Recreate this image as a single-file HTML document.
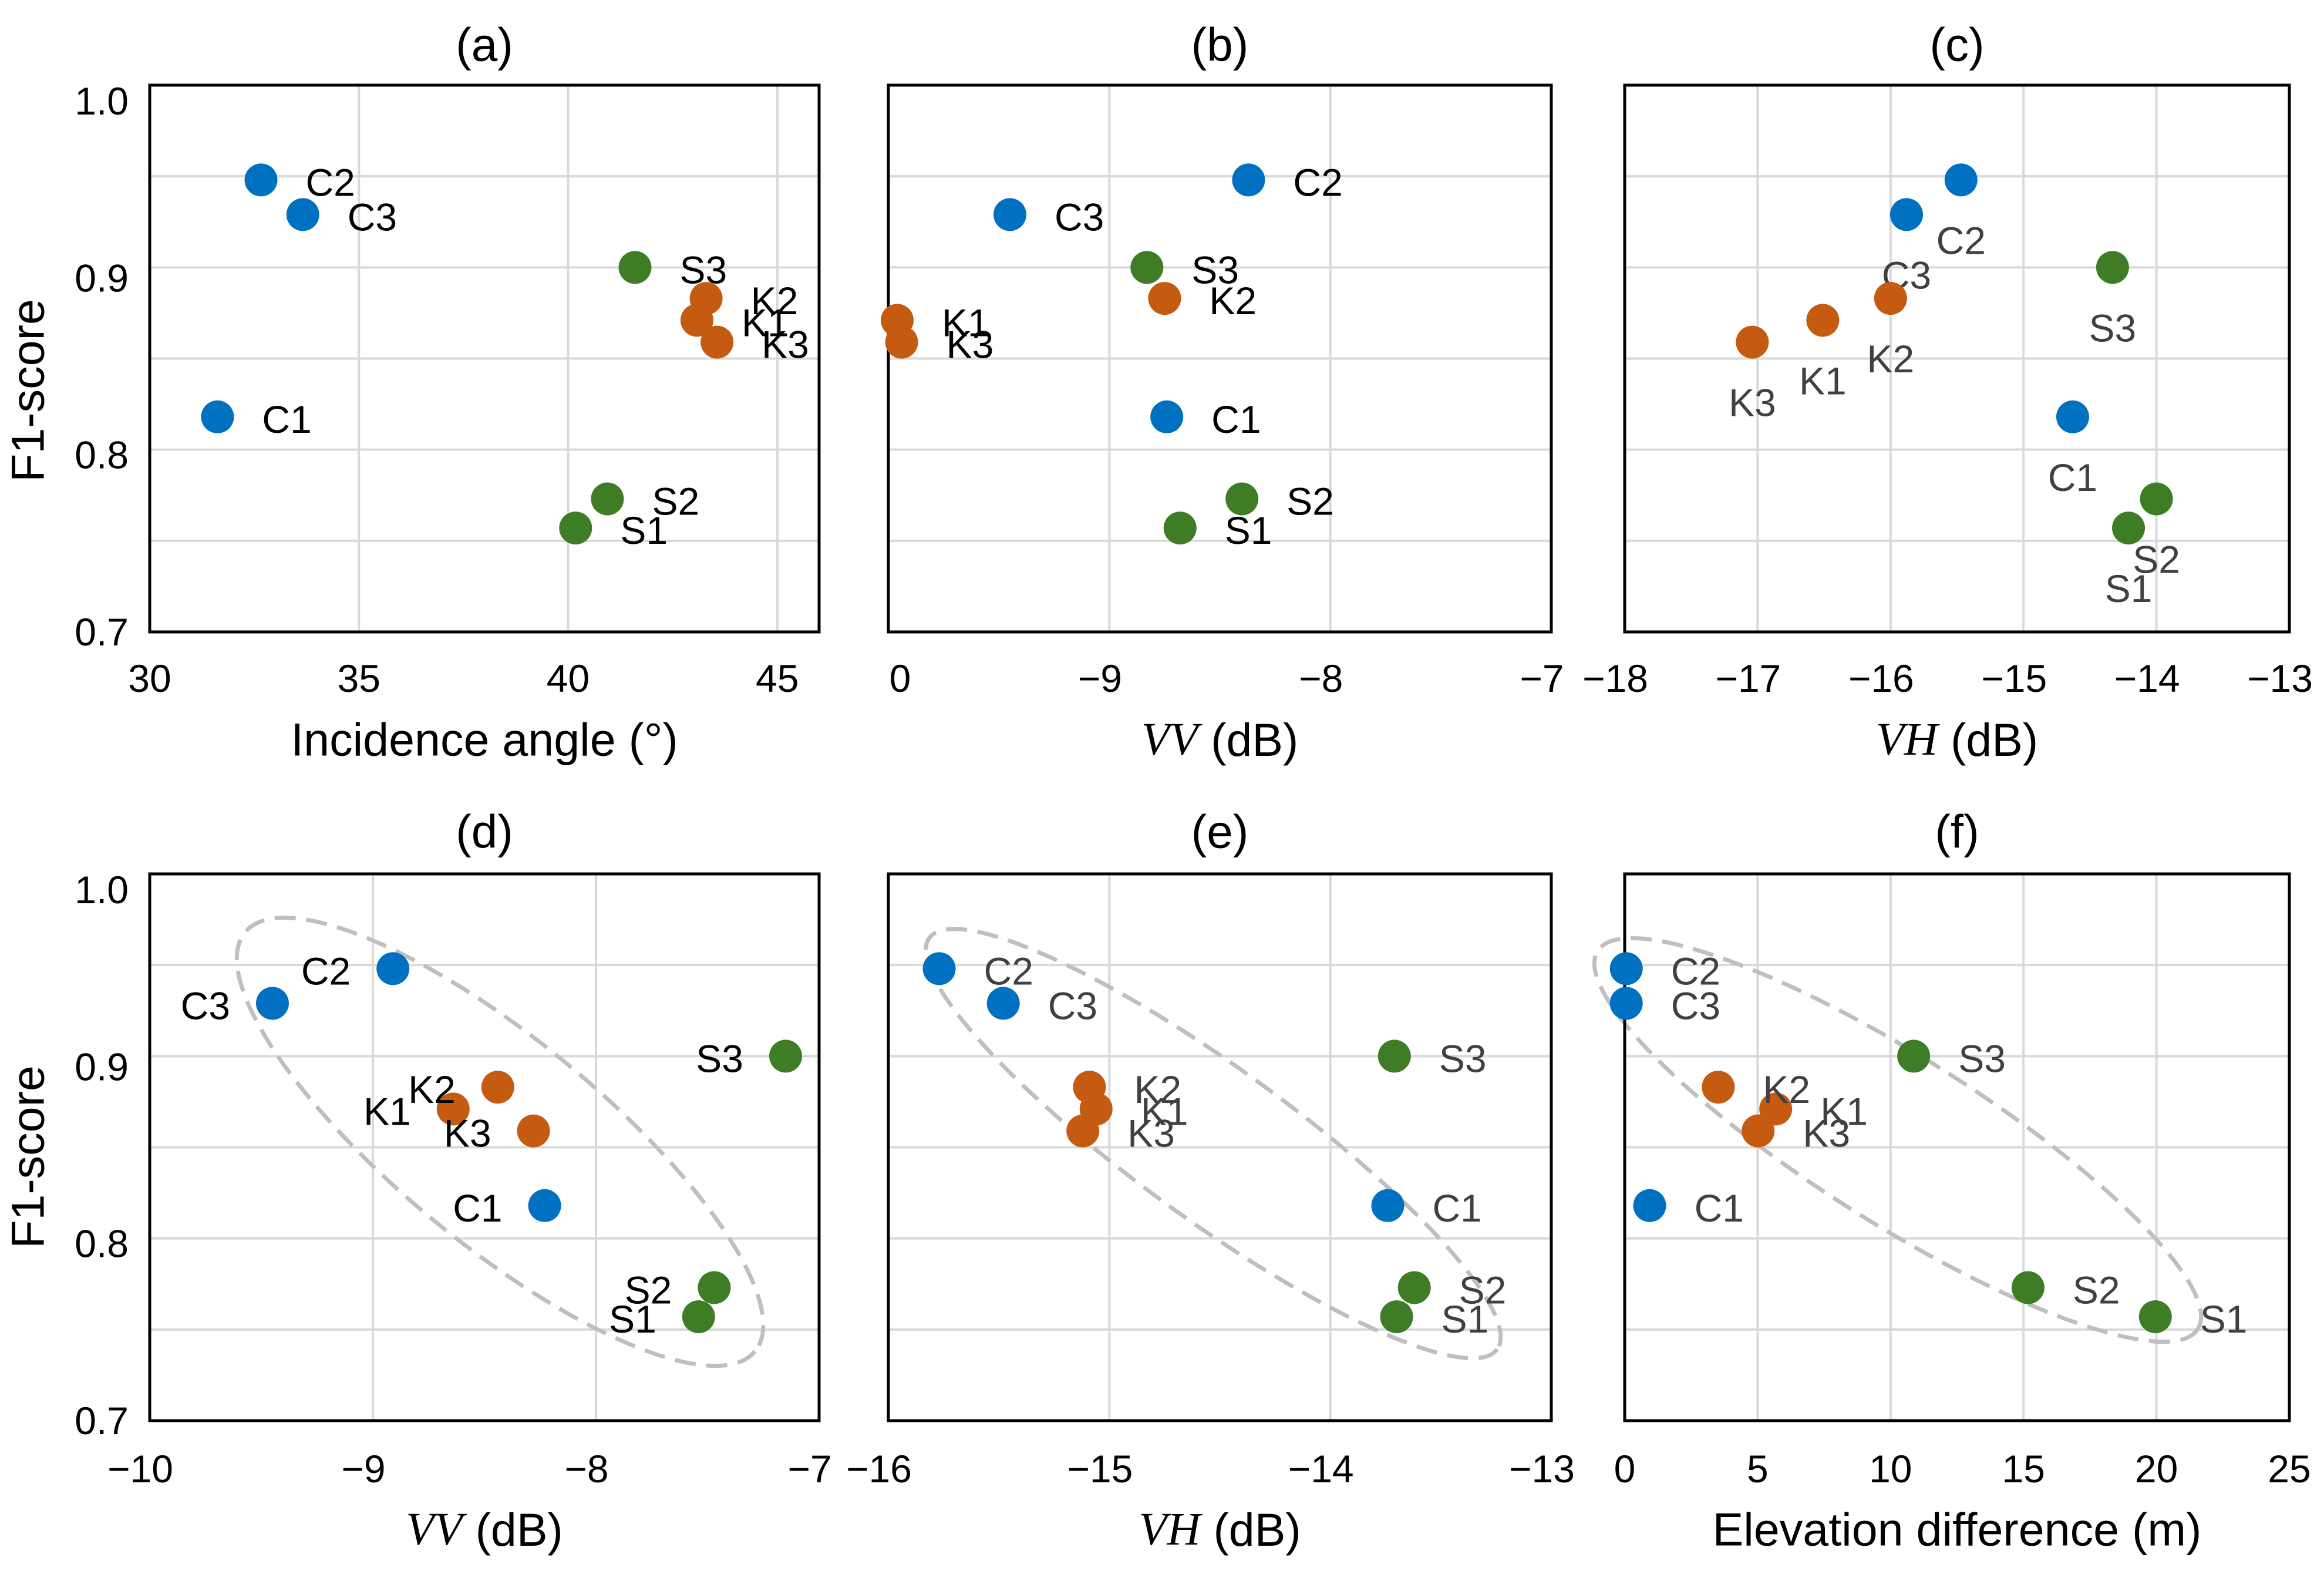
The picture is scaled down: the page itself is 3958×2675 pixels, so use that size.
<!DOCTYPE html>
<html><head><meta charset="utf-8">
<style>
html,body{margin:0;padding:0;background:#fff;}
svg{display:block;font-family:"Liberation Sans",Arial,sans-serif;}
</style></head>
<body>
<svg id="fig" xmlns="http://www.w3.org/2000/svg" width="3958" height="2675" viewBox="0 0 3958 2675"></svg>
<script>
const names = ['C1','C2','C3','K1','K2','K3','S1','S2','S3'];
const groups = ['C','C','C','K','K','K','S','S','S'];
const f1 = [0.818,0.948,0.929,0.871,0.883,0.859,0.757,0.773,0.900];
const incidence = [31.62,32.66,33.66,43.08,43.30,43.56,40.18,40.94,41.60];
const vvB = [-8.74,-8.37,-9.45,-9.96,-8.75,-9.94,-8.68,-8.40,-8.83];
const vhC = [-14.63,-15.47,-15.88,-16.51,-16.00,-17.04,-14.21,-14.00,-14.33];
const vvD = [-8.23,-8.91,-9.45,-8.64,-8.44,-8.28,-7.54,-7.47,-7.15];
const vhE = [-13.74,-15.77,-15.48,-15.06,-15.09,-15.12,-13.70,-13.62,-13.71];
const elev = [0.94,0.06,0.06,5.68,3.52,5.02,19.96,15.17,10.87];
const yTicks = [1.0,0.9,0.8,0.7];
const yTickText = ['1.0','0.9','0.8','0.7'];
const yGrid = [0.75,0.8,0.85,0.9,0.95];
const ticksA = [30,35,40,45];
const tickTextA = ['30','35','40','45'];
const ticksB = [-10,-9,-8,-7];
const tickTextB = ['0','\u22129','\u22128','\u22127'];
const ticksC = [-18,-17,-16,-15,-14,-13];
const tickTextC = ['\u221218','\u221217','\u221216','\u221215','\u221214','\u221213'];
const ticksD = [-10,-9,-8,-7];
const tickTextD = ['\u221210','\u22129','\u22128','\u22127'];
const ticksE = [-16,-15,-14,-13];
const tickTextE = ['\u221216','\u221215','\u221214','\u221213'];
const ticksF = [0,5,10,15,20,25];
const tickTextF = ['0','5','10','15','20','25'];
const ellD = [-8.43,0.853];
const ellE = [-14.53,0.852];
const ellF = [10.27,0.854];

const colors = {C:'#0070C0',K:'#C55A11',S:'#3E7D25'};
const NS='http://www.w3.org/2000/svg';
const svg=document.getElementById('fig');
function mk(tag,attrs,parent){const e=document.createElementNS(NS,tag);for(const k in attrs)e.setAttribute(k,attrs[k]);(parent||svg).appendChild(e);return e;}

const cols=[[255,1395],[1513,2642],[2767,3899]];
const rows=[[145,1076],[1488,2419]];
const panels=[
 {id:'a',title:'(a)',col:0,row:0,xs:incidence,xmin:30,xmax:46,ticks:ticksA,tt:tickTextA,grid:[35,40,45],mode:'right',lc:'#000',xt:'Incidence angle (°)',ell:null},
 {id:'b',title:'(b)',col:1,row:0,xs:vvB,xmin:-10,xmax:-7,ticks:ticksB,tt:tickTextB,grid:[-9,-8],mode:'right',lc:'#000',xt:'VV',ell:null},
 {id:'c',title:'(c)',col:2,row:0,xs:vhC,xmin:-18,xmax:-13,ticks:ticksC,tt:tickTextC,grid:[-17,-16,-15,-14],mode:'below',lc:'#404040',xt:'VH',ell:null},
 {id:'d',title:'(d)',col:0,row:1,xs:vvD,xmin:-10,xmax:-7,ticks:ticksD,tt:tickTextD,grid:[-9,-8],mode:'left',lc:'#000',xt:'VV',ell:ellD,ea:562,eb:175,ang:39.4},
 {id:'e',title:'(e)',col:1,row:1,xs:vhE,xmin:-16,xmax:-13,ticks:ticksE,tt:tickTextE,grid:[-15,-14],mode:'right',lc:'#404040',xt:'VH',ell:ellE,ea:597,eb:130,ang:35.9},
 {id:'f',title:'(f)',col:2,row:1,xs:elev,xmin:0,xmax:25,ticks:ticksF,tt:tickTextF,grid:[5,10,15,20],mode:'right',lc:'#404040',xt:'Elevation difference (m)',ell:ellF,ea:604,eb:142,ang:32.2}
];

panels.forEach(p=>{
  const [x0,x1]=cols[p.col],[y0,y1]=rows[p.row];
  const X=v=>x0+(v-p.xmin)/(p.xmax-p.xmin)*(x1-x0);
  const Y=v=>y1-(v-0.7)/0.3*(y1-y0);
  const g=mk('g',{});
  
  
  const t=mk('text',{x:(x0+x1)/2,y:(p.row?1416:76),'font-size':80,'text-anchor':'middle','dominant-baseline':'central'},g);
  t.textContent=p.title;
  
  
  yGrid.forEach(v=>{const l=mk('line',{x1:x0,x2:x1,y1:Y(v),y2:Y(v),stroke:'#d9d9d9','stroke-width':4},g);
    
    });
  p.grid.forEach(v=>{const l=mk('line',{x1:X(v),x2:X(v),y1:y0,y2:y1,stroke:'#d9d9d9','stroke-width':4},g);
    
    });
  if(p.ell){
    const e=mk('ellipse',{cx:X(p.ell[0]),cy:Y(p.ell[1]),rx:p.ea,ry:p.eb,fill:'none',stroke:'#bfbfbf','stroke-width':7,'stroke-dasharray':'36 18',transform:`rotate(${p.ang} ${X(p.ell[0])} ${Y(p.ell[1])})`},g);
    
    
  }
  const b=mk('rect',{x:x0,y:y0,width:x1-x0,height:y1-y0,fill:'none',stroke:'#000','stroke-width':5},g);
  
  
  p.ticks.forEach((v,i)=>{const s=p.tt[i];const sh=s.startsWith('\u2212')?-16:(p.id==='b'&&i===0?20:0);
    const tx=mk('text',{x:X(v)+sh,y:(p.row?2501:1155),'font-size':66,'text-anchor':'middle','dominant-baseline':'central'},g);
    tx.textContent=s;
    
    });
  const at=mk('text',{x:(x0+x1)/2,y:(p.row?2604:1259),'font-size':79,'text-anchor':'middle','dominant-baseline':'central'},g);
  
  
  if(p.xt==='VV'||p.xt==='VH'){
    const s1=mk('tspan',{'font-family':'"Liberation Serif",serif','font-style':'italic'},at);s1.textContent=p.xt;
    const s2=mk('tspan',{},at);s2.textContent=' (dB)';
  } else at.textContent=p.xt;
  if(p.col===0){
    yTicks.forEach((v,i)=>{const ty=mk('text',{x:219,y:Y(v)+27*(v-0.7)/0.3,'font-size':66,'text-anchor':'end','dominant-baseline':'central'},g);
      ty.textContent=yTickText[i];
      
      });
    const yt=mk('text',{x:47,y:(p.row?1970:665),'font-size':79,'text-anchor':'middle','dominant-baseline':'central',transform:`rotate(-90 47 ${p.row?1970:665})`},g);
    yt.textContent='F1-score';
    
    
  }
  names.forEach((n,i)=>{
    const cx=X(p.xs[i]),cy=Y(f1[i]);
    const c=mk('circle',{cx:cx,cy:cy,r:28,fill:colors[groups[i]]},g);
    
    
    let a={'font-size':66,fill:p.lc,'dominant-baseline':'central'};
    if(p.mode==='right'){a.x=cx+76;a.y=cy+4;a['text-anchor']='start';}
    else if(p.mode==='left'){a.x=cx-72;a.y=cy+4;a['text-anchor']='end';}
    else {a.x=cx;a.y=cy+103;a['text-anchor']='middle';}
    const l=mk('text',a,g);
    l.textContent=n;
    
    
  });
});
</script>
</body></html>
